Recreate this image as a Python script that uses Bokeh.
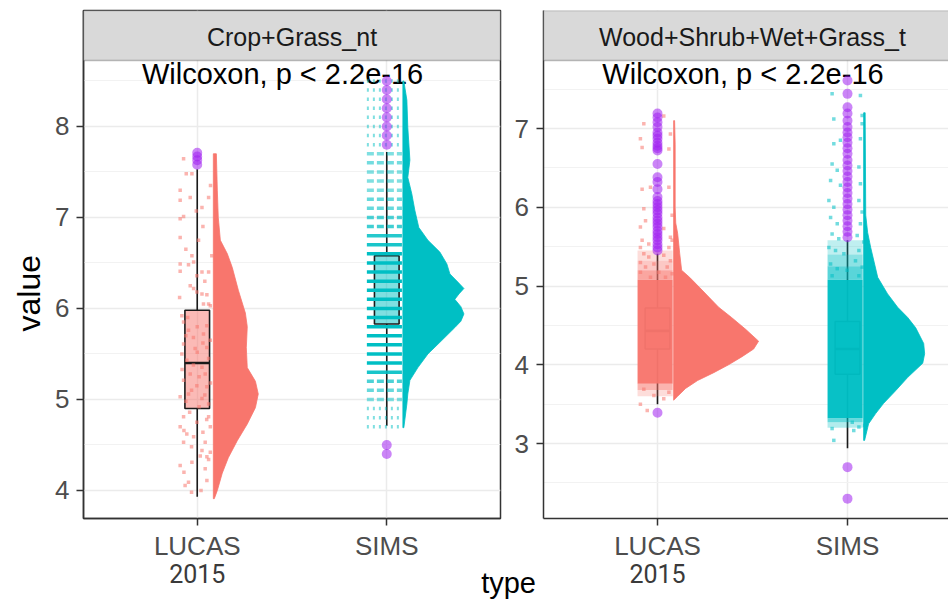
import numpy as np
from bokeh.plotting import figure
from bokeh.models import Range1d, FixedTicker, BoxAnnotation, Label, LinearAxis, Title
from bokeh.layouts import row
from bokeh.embed import file_html
from bokeh.resources import INLINE
from bokeh.core.properties import value

# ---------------------------------------------------------------- data
categories = ["LUCAS", "SIMS"]
category_year = "2015"
panel_titles = ["Crop+Grass_nt", "Wood+Shrub+Wet+Grass_t"]
test_text = "Wilcoxon, p < 2.2e-16"
x_title = "type"
y_title = "value"

crop_yticks = [4, 5, 6, 7, 8]
crop_yminor = [4.5, 5.5, 6.5, 7.5, 8.5]
wood_yticks = [3, 4, 5, 6, 7]
wood_yminor = [2.5, 3.5, 4.5, 5.5, 6.5, 7.5]
crop_ylim = [3.692, 8.725]
wood_ylim = [2.048, 7.8635]

# box stats: lower whisker, Q1, median, Q3, upper whisker
crop_lucas_box = [3.93, 4.90, 5.40, 5.98, 7.53]
crop_sims_box = [4.71, 5.83, 6.20, 6.58, 7.72]
wood_lucas_box = [3.50, 4.20, 4.43, 4.72, 5.41]
wood_sims_box = [2.94, 3.88, 4.20, 4.55, 5.58]

# outliers
crop_lucas_out = [7.58, 7.63, 7.67, 7.71]
crop_sims_out = [4.4, 4.5, 7.8, 7.9, 8.0, 8.1, 8.2, 8.3, 8.4, 8.5]
wood_lucas_out = [3.39, 5.45, 5.49, 5.53, 5.58, 5.62, 5.66, 5.70, 5.75, 5.79, 5.83,
                  5.87, 5.92, 5.96, 6.00, 6.04, 6.08, 6.13, 6.23, 6.32, 6.38, 6.55,
                  6.72, 6.75, 6.78, 6.82, 6.87, 6.91, 6.95, 7.02, 7.08, 7.14, 7.19]
wood_sims_out = [2.30, 2.70, 5.62, 5.69, 5.76, 5.83, 5.90, 5.97, 6.04, 6.11, 6.18,
                 6.25, 6.32, 6.39, 6.46, 6.53, 6.60, 6.68, 6.75, 6.82, 6.89, 6.95,
                 7.02, 7.10, 7.19, 7.27, 7.44, 7.61]

# half-violin density profiles (value, width in x units)
crop_lucas_vy = [3.91, 4.00, 4.19, 4.36, 4.55, 4.73, 4.91, 5.06, 5.20, 5.35, 5.57,
                 5.80, 5.95, 6.20, 6.45, 6.60, 6.75, 7.00, 7.30, 7.70]
crop_lucas_vw = [0.005, 0.021, 0.047, 0.079, 0.127, 0.179, 0.222, 0.237, 0.222, 0.179,
                 0.174, 0.179, 0.169, 0.132, 0.100, 0.074, 0.037, 0.026, 0.021, 0.016]
crop_sims_vy = [4.69, 4.95, 5.06, 5.21, 5.35, 5.50, 5.65, 5.79, 5.86, 5.94, 6.02, 6.10,
                6.16, 6.22, 6.29, 6.38, 6.49, 6.62, 6.75, 6.89, 7.08, 7.26, 7.44, 7.63,
                7.99, 8.29, 8.50]
crop_sims_vw = [0.005, 0.021, 0.026, 0.037, 0.079, 0.132, 0.206, 0.274, 0.306, 0.322,
                0.306, 0.274, 0.296, 0.322, 0.290, 0.248, 0.232, 0.195, 0.132, 0.084,
                0.063, 0.047, 0.026, 0.037, 0.026, 0.021, 0.005]
wood_lucas_vy = [3.55, 3.60, 3.70, 3.80, 3.90, 4.00, 4.10, 4.20, 4.30, 4.45, 4.60, 4.73,
                 4.85, 4.98, 5.11, 5.20, 5.41, 5.67, 5.80, 6.00, 6.80, 7.10]
wood_lucas_vw = [0.0, 0.021, 0.063, 0.126, 0.211, 0.289, 0.358, 0.421, 0.447, 0.379,
                 0.305, 0.237, 0.189, 0.137, 0.084, 0.042, 0.032, 0.021, 0.011, 0.008,
                 0.008, 0.005]
wood_sims_vy = [3.04, 3.25, 3.38, 3.51, 3.67, 3.84, 4.02, 4.14, 4.27, 4.47, 4.60, 4.73,
                4.90, 5.11, 5.49, 5.68, 5.90, 7.20]
wood_sims_vw = [0.005, 0.026, 0.063, 0.105, 0.168, 0.232, 0.311, 0.321, 0.316, 0.274,
                0.232, 0.179, 0.126, 0.074, 0.037, 0.021, 0.011, 0.008]

# jittered raw points (value, jitter offset)
crop_lucas_py = [7.645, 7.48, 7.48, 7.30, 7.19, 7.22, 7.22, 7.07, 7.11, 6.985, 7.01, 6.78,
                 6.75, 6.58, 6.58, 6.49, 6.48, 6.51, 6.41, 6.40, 6.40, 6.36, 6.25, 6.22,
                 6.18, 6.16, 6.15, 6.12, 6.05, 6.05, 6.03, 5.92, 5.85, 5.76, 5.81, 5.72,
                 5.61, 5.56, 5.57, 5.65, 5.50, 5.43, 5.355, 5.28, 5.28, 5.21, 5.15, 5.14,
                 5.03, 5.06, 5.01, 4.95, 4.81, 4.70, 4.75, 4.81, 4.70, 4.62, 4.59, 4.53,
                 4.53, 4.44, 4.42, 4.38, 4.37, 4.275, 4.31, 4.24, 4.09, 4.11, 4.055,
                 5.90, 5.80, 5.70, 5.62, 5.45, 5.38, 5.33, 5.25, 5.18, 5.10, 5.05, 4.98,
                 4.92, 4.86, 4.78, 4.66, 4.64, 4.48, 4.34, 4.20, 4.00, 3.98, 5.68, 5.52,
                 6.30, 6.65, 6.90, 7.35]
crop_lucas_pdx = [-0.072, -0.058, -0.028, -0.090, -0.090, -0.037, 0.060, -0.005, 0.025,
                  -0.090, -0.072, -0.090, 0.007, -0.028, 0.077, -0.090, -0.046, -0.019,
                  -0.090, 0.025, 0.060, -0.002, -0.037, -0.019, -0.002, 0.025, 0.051,
                  -0.093, 0.033, 0.060, 0.069, -0.081, -0.072, -0.046, 0.051, 0.033,
                  -0.072, -0.011, 0.051, 0.069, -0.081, -0.055, 0.025, 0.042, -0.037,
                  -0.072, -0.002, 0.051, -0.090, -0.046, 0.025, 0.060, -0.072, -0.090,
                  -0.002, 0.060, 0.069, -0.055, -0.019, 0.042, -0.072, 0.025, 0.069,
                  0.016, 0.051, -0.090, -0.028, 0.042, -0.046, 0.051, -0.064,
                  -0.050, 0.000, -0.060, 0.030, 0.060, -0.020, -0.080, 0.010, 0.070,
                  -0.030, 0.040, -0.060, 0.010, -0.040, 0.050, -0.070, 0.030, -0.030,
                  0.060, -0.070, 0.020, -0.030, -0.020, 0.000, 0.040, -0.060, 0.030, 0.070]

# SIMS crop values are reported at 0.1 steps: jitter forms horizontal stripes
crop_sims_levels = [4.7, 4.8, 4.9, 5.0, 5.1, 5.2, 5.3, 5.4, 5.5, 5.6, 5.7, 5.8, 5.9,
                    6.0, 6.1, 6.2, 6.3, 6.4, 6.5, 6.6, 6.7, 6.8, 6.9, 7.0, 7.1, 7.2,
                    7.3, 7.4, 7.5, 7.6, 7.7, 7.8, 7.9, 8.0, 8.1, 8.2, 8.3, 8.4, 8.5]
crop_sims_density = [0.25, 0.3, 0.35, 0.5, 0.6, 0.7, 0.9, 1, 1, 1, 1, 1, 1,
                     1, 1, 1, 1, 1, 1, 1, 0.9, 0.85, 0.75, 0.7, 0.6, 0.6,
                     0.45, 0.5, 0.5, 0.55, 0.5, 0.3, 0.3, 0.3, 0.25, 0.3, 0.2, 0.2, 0.15]

# dense cores of the large point clouds (value bands and opacity)
wood_lucas_band_lo = [3.60, 3.68, 3.76, 5.08, 5.20, 5.32]
wood_lucas_band_hi = [3.68, 3.76, 5.08, 5.20, 5.32, 5.45]
wood_lucas_band_a = [0.25, 0.55, 0.97, 0.65, 0.4, 0.25]
wood_sims_band_lo = [3.20, 3.27, 3.32, 5.08, 5.25, 5.40]
wood_sims_band_hi = [3.27, 3.32, 5.08, 5.25, 5.40, 5.58]
wood_sims_band_a = [0.3, 0.6, 0.97, 0.65, 0.45, 0.25]

wood_lucas_py = [7.06, 6.87, 6.76, 6.93, 6.74, 7.16, 6.23, 6.255, 6.255, 5.98, 5.83, 5.90,
                 5.75, 5.73, 5.62, 5.58, 5.535, 5.49, 5.58, 5.49, 5.41, 5.37, 5.39, 5.32,
                 5.30, 5.28, 5.24, 5.24, 5.175, 5.175, 5.155, 5.11, 5.11, 3.50, 3.42, 3.61,
                 3.57, 3.65, 3.69]
wood_lucas_pdx = [-0.072, -0.090, -0.081, 0.068, 0.060, 0.033, -0.081, -0.037, 0.060,
                  -0.072, -0.063, 0.077, -0.090, 0.033, 0.068, -0.081, -0.046, -0.090,
                  0.077, 0.060, -0.072, -0.046, 0.033, 0.068, -0.090, -0.019, -0.063,
                  0.051, -0.090, 0.007, 0.077, -0.037, 0.042, -0.090, -0.054, -0.019,
                  0.033, 0.060, -0.072]
wood_sims_py = [7.44, 7.42, 7.12, 7.165, 7.06, 6.85, 6.805, 6.87, 6.55, 6.47, 6.51, 6.34,
                6.28, 6.30, 6.085, 6.00, 6.085, 5.94, 5.87, 5.79, 5.79, 5.66, 5.60, 5.64,
                5.56, 5.49, 5.45, 5.45, 5.41, 5.32, 5.28, 5.22, 5.24, 5.20, 5.13, 5.13,
                3.19, 3.165, 3.04, 3.27, 3.21, 3.23]
wood_sims_pdx = [-0.081, 0.068, -0.072, 0.077, 0.077, -0.037, -0.072, 0.068, -0.081,
                 -0.054, 0.060, -0.089, -0.037, 0.068, -0.098, -0.072, 0.060, 0.077,
                 -0.089, -0.054, 0.068, -0.081, -0.046, 0.051, 0.086, -0.098, -0.063,
                 0.060, -0.019, 0.042, -0.089, -0.054, 0.077, -0.002, -0.081, 0.060,
                 -0.081, 0.033, -0.072, 0.025, 0.060, 0.090]

# ---------------------------------------------------------------- style / layout
SALMON = "#F8766D"
TEAL = "#00BFC4"
PURPLE = "#A020F0"
FONT = "Liberation Sans"
DARK = "#333333"
FIG_H = 602
TOP_BORDER = 10
STRIP_PX = 50
PANEL_PX = 458
PANEL_TOP = TOP_BORDER + STRIP_PX   # canvas row of the panel top
BOTTOM_BORDER = FIG_H - TOP_BORDER - STRIP_PX - PANEL_PX
VIOLIN_GAP = 0.085
BOX_HALF = 0.065
JIT_LO, JIT_HI = -0.105, 0.08
NBSP = "\u00a0"


def ppu(ylim):
    return PANEL_PX / (ylim[1] - ylim[0])


def yval(row_px, ylim):
    return ylim[1] - (row_px - PANEL_TOP) / ppu(ylim)


def plain_axis(ticks, labels, font, size, color, standoff):
    return LinearAxis(ticker=FixedTicker(ticks=ticks),
                      major_label_overrides=dict(zip(ticks, labels)),
                      axis_line_color=None, major_tick_line_color=None,
                      minor_tick_line_color=None, major_tick_out=0, major_tick_in=0,
                      major_label_standoff=standoff, major_label_text_font=font,
                      major_label_text_font_size=size, major_label_text_color=color)


def base_figure(width, bl, br, x_end, ylim, yticks, yminor, outline):
    p = figure(width=width, height=FIG_H, x_range=Range1d(0.4, x_end),
               y_range=Range1d(ylim[0], ylim[1] + STRIP_PX / ppu(ylim)),
               output_backend="svg", toolbar_location=None,
               min_border_left=bl, min_border_right=br, min_border_top=TOP_BORDER,
               min_border_bottom=BOTTOM_BORDER)
    p.background_fill_color = "white"
    p.border_fill_color = "white"
    p.outline_line_color = DARK if outline else None
    p.outline_line_width = 1.5
    xt = FixedTicker(ticks=[1, 2])
    yt = FixedTicker(ticks=yticks, minor_ticks=yminor)
    p.xaxis.ticker = xt
    p.xgrid.ticker = xt
    p.yaxis.ticker = yt
    p.ygrid.ticker = yt
    p.xaxis.major_label_overrides = {i + 1: c for i, c in enumerate(categories)}
    for ax in (p.xaxis, p.yaxis):
        ax.axis_line_color = DARK
        ax.axis_line_width = 1.5
        ax.major_tick_line_color = DARK
        ax.major_tick_line_width = 1.5
        ax.major_tick_out = 7
        ax.major_tick_in = 0
        ax.minor_tick_line_color = None
        ax.major_label_text_font = FONT
        ax.major_label_text_font_size = "26px"
        ax.major_label_text_color = "#4D4D4D"
    p.yaxis.major_label_standoff = 7
    p.xaxis.major_label_standoff = 5
    p.xgrid.grid_line_color = "#EBEBEB"
    p.xgrid.grid_line_width = 1.5
    p.ygrid.grid_line_color = "#EBEBEB"
    p.ygrid.grid_line_width = 1.5
    p.ygrid.minor_grid_line_color = "#F2F2F2"
    p.ygrid.minor_grid_line_width = 1.0
    # second row of category labels
    p.add_layout(plain_axis([1], [category_year], "Roboto", "25px", "#3a3a3a", 0), "below")
    # compare-means label
    p.text(x=[1.45], y=[yval(73.5, ylim)], text=[test_text], text_font=value(FONT),
           text_font_size="29px", text_align="center", text_baseline="alphabetic",
           text_color="black")
    return p


def add_strip(p, ylim, title):
    p.add_layout(BoxAnnotation(bottom=ylim[1], right=2.6, fill_color="#D9D9D9", fill_alpha=1,
                               line_color=DARK, line_width=1.5))
    p.add_layout(Label(x=1.5, y=yval(36.5, ylim), text=title, text_font=FONT,
                       text_font_size="25px", text_align="center", text_baseline="middle",
                       text_color="#1a1a1a"))


def draw_violin_box(p, pos, color, vy, vw, box):
    base = pos + VIOLIN_GAP
    vy = np.asarray(vy, dtype=float)
    vw = np.asarray(vw, dtype=float)
    xs = np.concatenate([base + vw, [base, base]])
    ys = np.concatenate([vy, [vy[-1], vy[0]]])
    p.patch(xs, ys, fill_color=color, line_color=color, line_width=0.8)
    wlo, q1, med, q3, whi = box
    p.segment(x0=[pos, pos], y0=[wlo, q3], x1=[pos, pos], y1=[q1, whi],
              line_color="#1a1a1a", line_width=1.6)
    p.quad(left=[pos - BOX_HALF], right=[pos + BOX_HALF], bottom=[q1], top=[q3],
           fill_color=color, fill_alpha=0.5, line_color="#1a1a1a", line_width=1.6)
    p.segment(x0=[pos - BOX_HALF], y0=[med], x1=[pos + BOX_HALF], y1=[med],
              line_color="#1a1a1a", line_width=2.6)


def draw_points(p, pos, color, py, pdx):
    p.scatter(x=list(pos + np.asarray(pdx)), y=py, marker="square", size=3.5,
              fill_color=color, line_color=None, fill_alpha=0.55)


def draw_bands(p, pos, color, lo, hi, a):
    p.quad(left=[pos + JIT_LO] * len(lo), right=[pos + JIT_HI] * len(lo), bottom=lo, top=hi,
           fill_color=color, fill_alpha=a, line_color=None)


def draw_outliers(p, pos, ys):
    p.scatter(x=[pos] * len(ys), y=ys, marker="circle", size=10, fill_color=PURPLE,
              fill_alpha=0.55, line_color=None)


# ---------------------------------------------------------------- left panel
P1_W, P1_BL, P1_BR = 536, 83, 36
P2_W, P2_BL = 412, 7
X_PPU = 190.0

p1 = base_figure(P1_W, P1_BL, P1_BR, 2.6, crop_ylim, crop_yticks, crop_yminor, True)
draw_violin_box(p1, 1, SALMON, crop_lucas_vy, crop_lucas_vw, crop_lucas_box)
draw_violin_box(p1, 2, TEAL, crop_sims_vy, crop_sims_vw, crop_sims_box)
draw_points(p1, 1, SALMON, crop_lucas_py, crop_lucas_pdx)
lv = np.asarray(crop_sims_levels)
dn = np.asarray(crop_sims_density)
for sel, dash in ((dn >= 0.8, "solid"), ((dn >= 0.45) & (dn < 0.8), "7 3"), (dn < 0.45, "2 4")):
    n = int(sel.sum())
    p1.segment(x0=[2 + JIT_LO] * n, x1=[2 + JIT_HI] * n, y0=list(lv[sel]), y1=list(lv[sel]),
               line_color=TEAL, line_width=3.5, line_alpha=list(np.maximum(dn[sel], 0.5)),
               line_dash=dash)
draw_outliers(p1, 1, crop_lucas_out)
draw_outliers(p1, 2, crop_sims_out)
add_strip(p1, crop_ylim, panel_titles[0])

# y title (offset measured from the bottom of the plotting area)
p1.add_layout(Title(text=y_title, align="left", offset=187, standoff=11, text_font=FONT,
                    text_font_size="32px", text_font_style="normal", text_color="black"),
              "left")
# tick labels of the right panel's y axis (they sit in the gap between the panels)
p1.extra_y_ranges = {"wood": Range1d(wood_ylim[0], wood_ylim[1] + STRIP_PX / ppu(wood_ylim))}
axw = plain_axis(wood_yticks, [str(t) for t in wood_yticks], FONT, "26px", "#4D4D4D", 14)
axw.y_range_name = "wood"
p1.add_layout(axw, "right")
# x title, centred between the two panels
p1.add_layout(plain_axis([2.6], [NBSP * 2 + x_title], FONT, "29px", "black", -19), "below")

# ---------------------------------------------------------------- right panel
p2 = base_figure(P2_W, P2_BL, 0, 0.4 + (P2_W - P2_BL) / X_PPU, wood_ylim, wood_yticks,
                 wood_yminor, False)
p2.yaxis.major_label_overrides = {t: "" for t in wood_yticks}
p2.yaxis.major_label_standoff = 0
p2.add_layout(plain_axis([2], [NBSP], FONT, "29px", "black", -19), "below")
draw_violin_box(p2, 1, SALMON, wood_lucas_vy, wood_lucas_vw, wood_lucas_box)
draw_violin_box(p2, 2, TEAL, wood_sims_vy, wood_sims_vw, wood_sims_box)
draw_bands(p2, 1, SALMON, wood_lucas_band_lo, wood_lucas_band_hi, wood_lucas_band_a)
draw_bands(p2, 2, TEAL, wood_sims_band_lo, wood_sims_band_hi, wood_sims_band_a)
draw_points(p2, 1, SALMON, wood_lucas_py, wood_lucas_pdx)
draw_points(p2, 2, TEAL, wood_sims_py, wood_sims_pdx)
draw_outliers(p2, 1, wood_lucas_out)
draw_outliers(p2, 2, wood_sims_out)
add_strip(p2, wood_ylim, panel_titles[1])

layout = row(p1, p2)
open("out.html", "w").write(file_html(layout, INLINE))
